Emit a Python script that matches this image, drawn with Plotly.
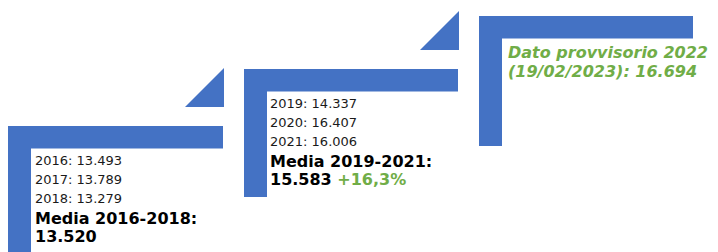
import plotly.graph_objects as go

# ---- data ----
years = [2016, 2017, 2018, 2019, 2020, 2021]
values = [13493, 13789, 13279, 14337, 16407, 16006]
periods = ["2016-2018", "2019-2021"]
averages = [13520, 15583]
changes = ["", "+16,3%"]
prov_year = 2022
prov_date = "19/02/2023"
prov_value = 16694

# ---- layout / style ----
W, H = 718, 252
PAGE_MARGIN = 8  # default body margin of the html page
BLUE = "#4472C4"
GREEN = "#70AD47"
FONT = "DejaVu Sans, Verdana, sans-serif"

step_left = [8, 244, 479]
step_top = [126, 69, 16]
step_bottom = [260, 197, 146]
arm_right = [223, 458, 693]
thick = 23
tri_size = 39
tri_gap = 19
text_dx = [25, 24, 27]
line_dy = [34, 53, 72, 92, 110]
prov_dy = [36, 55]


def fmt(v):
    return f"{v:,}".replace(",", ".")


fig = go.Figure()
shapes = []
for i in range(3):
    L, T, B, R = step_left[i], step_top[i], step_bottom[i], arm_right[i]
    shapes.append(dict(type="rect", x0=L, x1=L + thick, y0=T, y1=B,
                       fillcolor=BLUE, line=dict(width=0), layer="below"))
    shapes.append(dict(type="rect", x0=L, x1=R, y0=T, y1=T + thick - 0.5,
                       fillcolor=BLUE, line=dict(width=0), layer="below"))
    if i < 2:
        tx = R + 1
        ty = step_top[i] - tri_gap
        shapes.append(dict(type="path",
                           path=f"M {tx - tri_size},{ty} L {tx},{ty} L {tx},{ty - tri_size} Z",
                           fillcolor=BLUE, line=dict(width=0), layer="below"))

annotations = []
for g in range(2):
    x = step_left[g] + text_dx[g]
    T = step_top[g]
    for k in range(3):
        idx = g * 3 + k
        annotations.append(dict(x=x, y=T + line_dy[k], text=f"{years[idx]}: {fmt(values[idx])}",
                                font=dict(family=FONT, size=13, color="#1a1a1a")))
    annotations.append(dict(x=x, y=T + line_dy[3], text=f"<b>Media {periods[g]}:</b>",
                            font=dict(family=FONT, size=16, color="#000000")))
    extra = f" <span style='color:{GREEN}'>{changes[g]}</span>" if changes[g] else ""
    annotations.append(dict(x=x, y=T + line_dy[4], text=f"<b>{fmt(averages[g])}{extra}</b>",
                            font=dict(family=FONT, size=16, color="#000000")))

x3 = step_left[2] + text_dx[2]
annotations.append(dict(x=x3, y=step_top[2] + prov_dy[0],
                        text=f"<b><i>Dato provvisorio {prov_year}</i></b>",
                        font=dict(family=FONT, size=16, color=GREEN)))
annotations.append(dict(x=x3, y=step_top[2] + prov_dy[1],
                        text=f"<b><i>({prov_date}): {fmt(prov_value)}</i></b>",
                        font=dict(family=FONT, size=16, color=GREEN)))
for a in annotations:
    a.update(xref="x", yref="y", xanchor="left", yanchor="middle", showarrow=False)

fig.update_layout(
    width=W - PAGE_MARGIN, height=H - PAGE_MARGIN,
    margin=dict(l=0, r=0, t=0, b=0),
    paper_bgcolor="white", plot_bgcolor="white",
    xaxis=dict(range=[PAGE_MARGIN, W], visible=False, fixedrange=True),
    yaxis=dict(range=[H, PAGE_MARGIN], visible=False, fixedrange=True),
    shapes=shapes, annotations=annotations, showlegend=False,
)
fig.write_html("out.html")
